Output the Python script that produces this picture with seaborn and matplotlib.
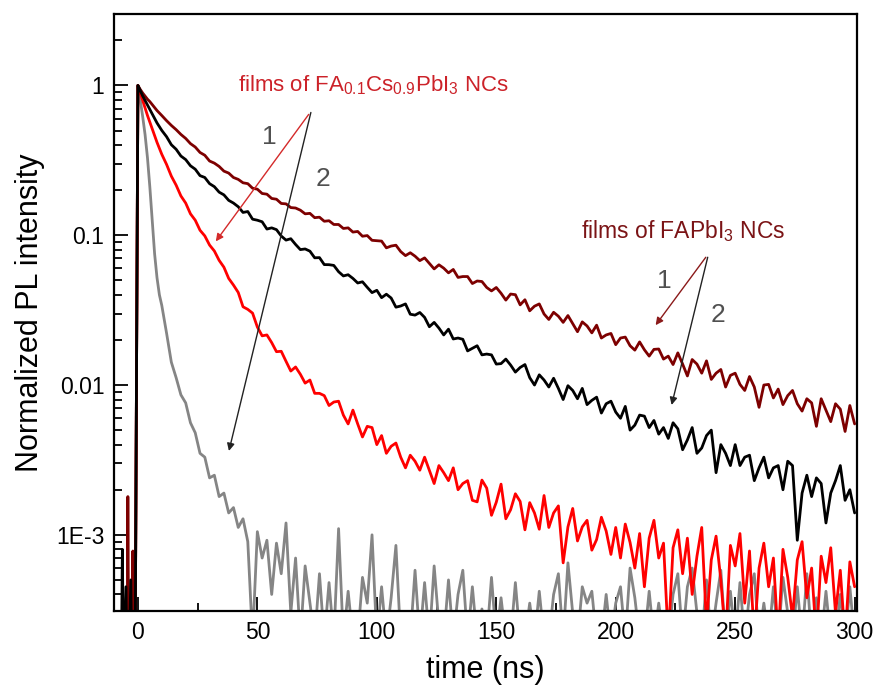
import numpy as np
import pandas as pd
import matplotlib
matplotlib.use("Agg")
import matplotlib.pyplot as plt
import seaborn as sns
from matplotlib.ticker import MultipleLocator, FixedLocator, LogLocator, FuncFormatter, NullFormatter

# ---------------- data ----------------
time_pre = [-10, -8, -7, -6.5, -6, -5, -4.5, -4.2, -3.8, -3, -2.4, -2.1, -1.8, -1.2]
time_ns = time_pre + list(range(0, 11)) + list(range(12, 301, 2))

# FAPbI3 NC film, sample 1 (dark red)
fapbi3_1 = [
    1e-4, 1e-4, 1e-4, 1e-4, 1e-4, 1e-4, 1e-4, 1.8e-3, 1e-4, 1e-4, 1e-4, 7.8e-4, 1e-4, 1e-4,
    1.0, 0.94, 0.89, 0.85, 0.81, 0.78, 0.745, 0.71, 0.68, 0.655, 0.63,
    0.582, 0.541, 0.507, 0.471, 0.443, 0.409, 0.388, 0.357, 0.342, 0.313,
    0.303, 0.288, 0.268, 0.260, 0.243, 0.236, 0.224, 0.221, 0.206, 0.203,
    0.190, 0.188, 0.176, 0.174, 0.163, 0.162, 0.153, 0.152, 0.147, 0.139,
    0.140, 0.131, 0.132, 0.124, 0.125, 0.118, 0.118, 0.111, 0.112, 0.105,
    0.106, 0.0985, 0.0995, 0.0925, 0.0920, 0.0914, 0.0824, 0.0847, 0.0858, 0.0778,
    0.0731, 0.0764, 0.0725, 0.0677, 0.0706, 0.0648, 0.0596, 0.0635, 0.0603, 0.0561,
    0.0591, 0.0523, 0.0530, 0.0530, 0.0476, 0.0495, 0.0491, 0.0448, 0.0425, 0.0448,
    0.0410, 0.0369, 0.0405, 0.0401, 0.0343, 0.0371, 0.0313, 0.0336, 0.0348, 0.0298,
    0.0274, 0.0306, 0.0288, 0.0262, 0.0291, 0.0257, 0.0227, 0.0264, 0.0248, 0.0223,
    0.0251, 0.0206, 0.0216, 0.0221, 0.0186, 0.0206, 0.0209, 0.0183, 0.0171, 0.0194,
    0.0172, 0.0156, 0.0173, 0.0174, 0.0149, 0.0156, 0.0137, 0.0164, 0.0138, 0.0115,
    0.0148, 0.0138, 0.0120, 0.0145, 0.0109, 0.0120, 0.0127, 0.0097, 0.0116, 0.0120,
    0.0101, 0.0092, 0.0114, 0.0097, 0.0071, 0.0100, 0.0101, 0.0082, 0.0094, 0.0074,
    0.0085, 0.0092, 0.0075, 0.0067, 0.0081, 0.0076, 0.0053, 0.0081, 0.0068, 0.0057,
    0.0075, 0.0069, 0.0049, 0.0073, 0.0055,
]

# FAPbI3 NC film, sample 2 (black)
fapbi3_2 = [
    1e-4, 1e-4, 1e-4, 8e-4, 1e-4, 4.5e-4, 1e-4, 1e-4, 1e-4, 5e-4, 1e-4, 1e-4, 1e-4, 1e-4,
    1.0, 0.923, 0.851, 0.794, 0.741, 0.692, 0.646, 0.603, 0.562, 0.531, 0.501,
    0.455, 0.402, 0.375, 0.338, 0.320, 0.291, 0.276, 0.250, 0.243, 0.221,
    0.211, 0.194, 0.186, 0.171, 0.164, 0.155, 0.142, 0.144, 0.128, 0.126,
    0.123, 0.110, 0.112, 0.109, 0.0988, 0.0928, 0.0948, 0.0868, 0.0802, 0.0810,
    0.0783, 0.0707, 0.0709, 0.0637, 0.0636, 0.0629, 0.0571, 0.0535, 0.0545, 0.0515,
    0.0480, 0.0489, 0.0449, 0.0414, 0.0429, 0.0383, 0.0404, 0.0381, 0.0331, 0.0337,
    0.0348, 0.0297, 0.0293, 0.0305, 0.0283, 0.0245, 0.0262, 0.0240, 0.0216, 0.0236,
    0.0203, 0.0206, 0.0202, 0.0169, 0.0176, 0.0183, 0.0159, 0.0161, 0.0159, 0.0138,
    0.0139, 0.0149, 0.0136, 0.0122, 0.0131, 0.0137, 0.0112, 0.0100, 0.0117, 0.0108,
    0.0097, 0.0111, 0.0095, 0.0080, 0.0099, 0.0092, 0.0081, 0.0095, 0.0074, 0.0079,
    0.0083, 0.0065, 0.0075, 0.0078, 0.0066, 0.0060, 0.0072, 0.0050, 0.0054, 0.0063,
    0.0062, 0.0052, 0.0058, 0.0047, 0.0052, 0.0044, 0.0056, 0.0051, 0.0037, 0.0043,
    0.0052, 0.0035, 0.0038, 0.0046, 0.0050, 0.0026, 0.0040, 0.0035, 0.0029, 0.0040,
    0.0029, 0.0033, 0.0034, 0.0023, 0.0028, 0.0033, 0.0024, 0.0028, 0.0029, 0.0020,
    0.0031, 0.0029, 0.00092, 0.0019, 0.0025, 0.0018, 0.0024, 0.0022, 0.0012, 0.0019,
    0.0023, 0.0029, 0.0017, 0.0020, 0.0014,
]

# FA0.1Cs0.9PbI3 NC film, sample 1 (red)
facs_1 = [
    1e-4, 1e-4, 1e-4, 1e-4, 1e-4, 1e-4, 1e-4, 1e-4, 1e-4, 1e-4, 1e-4, 1e-4, 1e-4, 1e-4,
    1.0, 0.891, 0.794, 0.708, 0.631, 0.569, 0.513, 0.462, 0.417, 0.380, 0.347,
    0.297, 0.248, 0.216, 0.183, 0.164, 0.139, 0.126, 0.108, 0.0990, 0.0860,
    0.0785, 0.0680, 0.0612, 0.0515, 0.0465, 0.0415, 0.0333, 0.0320, 0.0302, 0.0244,
    0.0213, 0.0216, 0.0192, 0.0167, 0.0168, 0.0144, 0.0124, 0.0132, 0.0118, 0.0103,
    0.0108, 0.0088, 0.0088, 0.0085, 0.0073, 0.0077, 0.0078, 0.0063, 0.0055, 0.0068,
    0.0055, 0.0045, 0.0053, 0.0052, 0.0040, 0.0046, 0.0035, 0.0039, 0.0041, 0.0033,
    0.0028, 0.0034, 0.0031, 0.0027, 0.0033, 0.0027, 0.0022, 0.0029, 0.0026, 0.0023,
    0.0028, 0.0020, 0.0022, 0.0023, 0.0017, 0.00166, 0.00232, 0.00205, 0.00135, 0.00165,
    0.00218, 0.00128, 0.00147, 0.00188, 0.00167, 0.00108, 0.00164, 0.00140, 0.00109, 0.00183,
    0.00112, 0.00140, 0.00156, 0.00065, 0.00113, 0.00150, 0.00091, 0.00113, 0.00125, 0.00079,
    0.00093, 0.00131, 0.00106, 0.00074, 0.00112, 0.00070, 0.00118, 0.00089, 0.00060, 0.00102,
    0.00045, 0.00095, 0.00125, 0.00070, 0.00088, 0.00020, 0.00082, 0.00108, 0.00055, 0.00095,
    0.00040, 0.00072, 0.00112, 0.00025, 0.00068, 0.00098, 0.00050, 0.00020, 0.00085, 0.00062,
    0.00102, 0.00035, 0.00078, 0.00020, 0.00060, 0.00088, 0.00045, 0.00070, 0.00020, 0.00080,
    0.00052, 0.00028, 0.00068, 0.00090, 0.00038, 0.00060, 0.00020, 0.00072, 0.00048, 0.00082,
    0.00030, 0.00058, 0.00020, 0.00066, 0.00045,
]

# FA0.1Cs0.9PbI3 NC film, sample 2 (gray)
facs_2 = [
    1e-4, 1e-4, 1e-4, 1e-4, 1e-4, 1e-4, 1e-4, 1e-4, 1e-4, 1e-4, 1e-4, 1e-4, 1e-4, 1e-4,
    1.0, 0.80, 0.62, 0.47, 0.33, 0.21, 0.125, 0.075, 0.052, 0.040, 0.034,
    0.0222, 0.0142, 0.0112, 0.0086, 0.0076, 0.0056, 0.0048, 0.0035, 0.0033, 0.0024,
    0.0025, 0.0018, 0.0019, 0.0014, 0.00152, 0.00112, 0.00128, 0.00090, 0.00020, 0.00105,
    0.00070, 0.00092, 0.00040, 0.00088, 0.00055, 0.00120, 0.00030, 0.00070, 0.00020, 0.00062,
    0.00035, 0.00020, 0.00055, 0.00020, 0.00048, 0.00020, 0.00110, 0.00020, 0.00042, 0.00020,
    0.00020, 0.00052, 0.00035, 0.00100, 0.00020, 0.00045, 0.00020, 0.00038, 0.00085, 0.00020,
    0.00030, 0.00020, 0.00058, 0.00020, 0.00048, 0.00020, 0.00062, 0.00025, 0.00020, 0.00050,
    0.00020, 0.00040, 0.00058, 0.00020, 0.00045, 0.00020, 0.00032, 0.00020, 0.00052, 0.00020,
    0.00038, 0.00020, 0.00020, 0.00048, 0.00020, 0.00020, 0.00035, 0.00020, 0.00042, 0.00020,
    0.00020, 0.00040, 0.00055, 0.00020, 0.00065, 0.00030, 0.00020, 0.00045, 0.00035, 0.00042,
    0.00020, 0.00020, 0.00040, 0.00020, 0.00035, 0.00045, 0.00020, 0.00060, 0.00038, 0.00020,
    0.00020, 0.00042, 0.00020, 0.00035, 0.00020, 0.00020, 0.00040, 0.00055, 0.00020, 0.00045,
    0.00060, 0.00030, 0.00020, 0.00050, 0.00020, 0.00035, 0.00058, 0.00020, 0.00042, 0.00020,
    0.00048, 0.00020, 0.00040, 0.00055, 0.00020, 0.00035, 0.00020, 0.00045, 0.00020, 0.00052,
    0.00030, 0.00020, 0.00045, 0.00020, 0.00055, 0.00020, 0.00038, 0.00020, 0.00042, 0.00020,
    0.00020, 0.00040, 0.00020, 0.00045, 0.00020,
]

series_names = ["facs_2", "facs_1", "fapbi3_1", "fapbi3_2"]
series_vals = [facs_2, facs_1, fapbi3_1, fapbi3_2]
series_colors = ["#858585", "#ff0000", "#7d0000", "#000000"]

y_tick_vals = [1e-3, 1e-2, 1e-1, 1]
y_tick_text = ["1E-3", "0.01", "0.1", "1"]

for v in series_vals:
    assert len(v) == len(time_ns), (len(v), len(time_ns))

df = pd.concat(
    [pd.DataFrame({"time": time_ns, "intensity": v, "sample": n})
     for n, v in zip(series_names, series_vals)],
    ignore_index=True,
)

# ---------------- styling ----------------
sns.set_theme(style="ticks")
plt.rcParams["font.family"] = ["Liberation Sans", "DejaVu Sans"]
plt.rcParams["mathtext.fontset"] = "custom"
plt.rcParams["mathtext.rm"] = "Liberation Sans"
plt.rcParams["mathtext.it"] = "Liberation Sans:italic"
plt.rcParams["mathtext.bf"] = "Liberation Sans:bold"

fig = plt.figure(figsize=(8.79, 6.96), dpi=100)
ax = fig.add_axes([0.1297, 0.1221, 0.8453, 0.8578])

sns.lineplot(
    data=df, x="time", y="intensity", hue="sample",
    hue_order=series_names, palette=dict(zip(series_names, series_colors)),
    estimator=None, sort=False, legend=False, linewidth=2.0, ax=ax,
)

ax.set_yscale("log")
ax.set_xlim(-10, 301)
ax.set_ylim(3.1e-4, 3.0)

ax.xaxis.set_major_locator(MultipleLocator(50))
ax.xaxis.set_minor_locator(MultipleLocator(25))
ax.yaxis.set_major_locator(FixedLocator(y_tick_vals))
ax.yaxis.set_major_formatter(FuncFormatter(
    lambda v, p: dict(zip(y_tick_vals, y_tick_text)).get(v, "")))
ax.yaxis.set_minor_locator(LogLocator(base=10, subs=np.arange(2, 10), numticks=30))
ax.yaxis.set_minor_formatter(NullFormatter())

ax.tick_params(which="both", direction="in", top=False, right=False,
               colors="black", width=1.3, labelsize=16.5, pad=7)
ax.tick_params(which="major", length=10)
ax.tick_params(which="minor", length=5.5)
for s in ax.spines.values():
    s.set_linewidth(1.6)
    s.set_color("black")
ax.grid(False)

ax.set_xlabel("time (ns)", fontsize=22, labelpad=8, color="black")
ax.set_ylabel("Normalized PL intensity", fontsize=22, labelpad=8, color="black")

# ---------------- annotations ----------------
arrow_kw = dict(arrowstyle="-|>", lw=1.0, mutation_scale=11, shrinkA=0, shrinkB=0)
ax.annotate("", xy=(32.6, 0.091), xytext=(71.5, 0.641),
            arrowprops=dict(color="#d42a2a", **arrow_kw))
ax.annotate("", xy=(38.1, 0.00363), xytext=(72.4, 0.66),
            arrowprops=dict(color="#222222", **arrow_kw))
ax.annotate("", xy=(216.7, 0.0251), xytext=(237.7, 0.0713),
            arrowprops=dict(color="#8b1a1a", **arrow_kw))
ax.annotate("", xy=(223.4, 0.00736), xytext=(238.5, 0.0713),
            arrowprops=dict(color="#222222", **arrow_kw))

ax.text(41.8, 1.0, r"films of FA$_{0.1}$Cs$_{0.9}$PbI$_{3}$ NCs",
        color="#cc2229", fontsize=16, ha="left", va="center")
ax.text(185.4, 0.106, r"films of FAPbI$_{3}$ NCs",
        color="#7b1416", fontsize=16.5, ha="left", va="center")

num_kw = dict(fontsize=19, color="#505050", ha="center", va="center")
ax.text(54.8, 0.45, "1", **num_kw)
ax.text(77.4, 0.236, "2", **num_kw)
ax.text(220.5, 0.0493, "1", **num_kw)
ax.text(242.7, 0.0293, "2", **num_kw)

fig.savefig("out.png", dpi=100)
